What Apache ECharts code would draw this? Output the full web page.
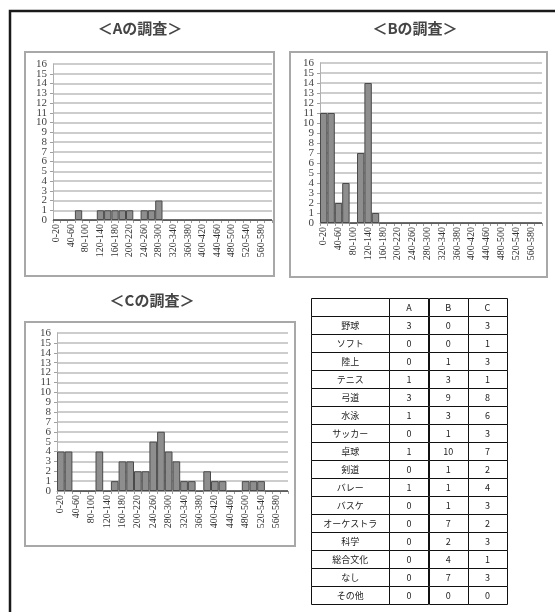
<!DOCTYPE html>
<html>
<head>
<meta charset="utf-8">
<script src="https://cdn.jsdelivr.net/npm/echarts@6/dist/echarts.min.js"></script>
<style>
html, body { margin: 0; padding: 0; background: #fff; }
#main { width: 555px; height: 612px; }
</style>
</head>
<body>
<div id="main"></div>
<script>
// 階級（x軸）
const classes = [
  '0-20', '20-40', '40-60', '60-80', '80-100', '100-120', '120-140', '140-160',
  '160-180', '180-200', '200-220', '220-240', '240-260', '260-280', '280-300', '300-320',
  '320-340', '340-360', '360-380', '380-400', '400-420', '420-440', '440-460', '460-480',
  '480-500', '500-520', '520-540', '540-560', '560-580', '580-600'
];
// 各調査の度数
const surveyA = [0, 0, 0, 1, 0, 0, 1, 1, 1, 1, 1, 0, 1, 1, 2, 0, 0, 0, 0, 0, 0, 0, 0, 0, 0, 0, 0, 0, 0, 0];
const surveyB = [11, 11, 2, 4, 0, 7, 14, 1, 0, 0, 0, 0, 0, 0, 0, 0, 0, 0, 0, 0, 0, 0, 0, 0, 0, 0, 0, 0, 0, 0];
const surveyC = [4, 4, 0, 0, 0, 4, 0, 1, 3, 3, 2, 2, 5, 6, 4, 3, 1, 1, 0, 2, 1, 1, 0, 0, 1, 1, 1, 0, 0, 0];
const titles = ['＜Aの調査＞', '＜Bの調査＞', '＜Cの調査＞'];

// 部活動の表
const tableHeader = ['', 'A', 'B', 'C'];
const clubs = ['野球', 'ソフト', '陸上', 'テニス', '弓道', '水泳', 'サッカー', '卓球', '剣道', 'バレー', 'バスケ', 'オーケストラ', '科学', '総合文化', 'なし', 'その他'];
const tableA = [3, 0, 0, 1, 3, 1, 0, 1, 0, 1, 0, 0, 0, 0, 0, 0];
const tableB = [0, 0, 1, 3, 9, 3, 1, 10, 1, 1, 1, 7, 2, 4, 7, 0];
const tableC = [3, 1, 3, 1, 8, 6, 3, 7, 2, 4, 3, 2, 3, 1, 3, 0];

const serif = '"Liberation Serif", "DejaVu Serif", serif';
const jp = '"Noto Sans CJK JP", "Noto Sans", sans-serif';

// グラフ位置
const grids = [
  { left: 53, top: 64, width: 219, height: 156 },
  { left: 320, top: 63, width: 222, height: 160 },
  { left: 57, top: 333, width: 231, height: 158 },
  { left: 311, top: 298, width: 196, height: 306 }
];
const frames = [
  { x: 25, y: 52, width: 249, height: 224 },
  { x: 290, y: 52, width: 257, height: 225 },
  { x: 25, y: 322, width: 270, height: 224 }
];
const titlePos = [[140, 28], [415, 28], [152, 300]];
const colEdges = [0, 2, 3, 4, 5];

const yLabel = { fontSize: 11, fontFamily: serif, color: '#444', margin: 6 };

function xAxisOf(i) {
  return {
    type: 'category', gridIndex: i, data: classes,
    axisLine: { lineStyle: { color: '#9a9a9a', width: 1 } },
    axisTick: { show: true, length: 3, interval: 0, lineStyle: { color: '#9a9a9a' } },
    axisLabel: { rotate: 90, interval: 1, fontSize: 10, fontFamily: serif, color: '#333', margin: 4, hideOverlap: false },
    splitLine: { show: false }
  };
}
// 1〜15 の目盛ラベル
function yAxisOf(i) {
  return {
    type: 'value', gridIndex: i, min: 0, max: 16, interval: 1,
    axisLine: { show: true, lineStyle: { color: '#b0b0b0' } },
    axisTick: { show: true, length: 3, lineStyle: { color: '#a0a0a0' } },
    axisLabel: Object.assign({ showMinLabel: false, showMaxLabel: false, hideOverlap: false }, yLabel),
    splitLine: { show: true, lineStyle: { color: '#bdbdbd', width: 1.5 } }
  };
}
// 0 と 16 のラベル
function yEndsOf(i) {
  return {
    type: 'value', gridIndex: i, min: 0, max: 16, interval: 16, position: 'left',
    axisLine: { show: false }, axisTick: { show: false }, splitLine: { show: false },
    axisLabel: Object.assign({ showMinLabel: true, showMaxLabel: true }, yLabel)
  };
}
function barSeries(i, data) {
  return {
    type: 'bar', xAxisIndex: i, yAxisIndex: i, data: data,
    barCategoryGap: 0,
    itemStyle: { color: '#8e8e8e', borderColor: '#4a4a4a', borderWidth: 1 }
  };
}

// 表のセル
const cells = [];
for (let r = 0; r <= clubs.length; r++) {
  const row = r === 0 ? tableHeader
    : [clubs[r - 1], tableA[r - 1], tableB[r - 1], tableC[r - 1]];
  for (let c = 0; c < 4; c++) {
    cells.push({ x0: colEdges[c], x1: colEdges[c + 1], row: r, text: String(row[c]) });
  }
}

const graphics = [
  { type: 'polyline', shape: { points: [[10, 612], [10, 11], [555, 11]] },
    style: { stroke: '#1a1a1a', lineWidth: 2.5, fill: null }, silent: true }
];
frames.forEach(f => graphics.push({
  type: 'rect', shape: f, style: { fill: null, stroke: '#a8a8a8', lineWidth: 2 }, silent: true
}));
titles.forEach((t, i) => graphics.push({
  type: 'text', x: titlePos[i][0], y: titlePos[i][1],
  style: { text: t, align: 'center', verticalAlign: 'middle', fontSize: 15, fontWeight: 'bold', fontFamily: jp, fill: '#454545' },
  silent: true
}));

const chart = echarts.init(document.getElementById('main'));
chart.setOption({
  animation: false,
  backgroundColor: '#fff',
  grid: grids.map(g => Object.assign({ outerBoundsMode: 'none' }, g)),
  xAxis: [xAxisOf(0), xAxisOf(1), xAxisOf(2),
    { type: 'value', gridIndex: 3, min: 0, max: 5, show: false }],
  yAxis: [yAxisOf(0), yAxisOf(1), yAxisOf(2),
    { type: 'value', gridIndex: 3, min: 0, max: 17, inverse: true, show: false },
    yEndsOf(0), yEndsOf(1), yEndsOf(2)],
  graphic: graphics,
  series: [
    barSeries(0, surveyA),
    barSeries(1, surveyB),
    barSeries(2, surveyC),
    {
      type: 'custom', xAxisIndex: 3, yAxisIndex: 3, silent: true,
      data: cells.map(c => [c.x0, c.x1, c.row]),
      renderItem: function (params, api) {
        const a = api.coord([api.value(0), api.value(2)]);
        const b = api.coord([api.value(1), api.value(2) + 1]);
        const cell = cells[params.dataIndex];
        return {
          type: 'group',
          children: [
            { type: 'rect',
              shape: { x: Math.round(a[0]) + 0.5, y: Math.round(a[1]) + 0.5, width: Math.round(b[0] - a[0]), height: Math.round(b[1] - a[1]) },
              style: { fill: '#fff', stroke: '#111', lineWidth: 1 } },
            { type: 'text', x: (a[0] + b[0]) / 2, y: (a[1] + b[1]) / 2 + 0.5,
              style: { text: cell.text, align: 'center', verticalAlign: 'middle', fontSize: 9, fontFamily: jp, fill: '#222' } }
          ]
        };
      }
    }
  ]
});
</script>
</body>
</html>
